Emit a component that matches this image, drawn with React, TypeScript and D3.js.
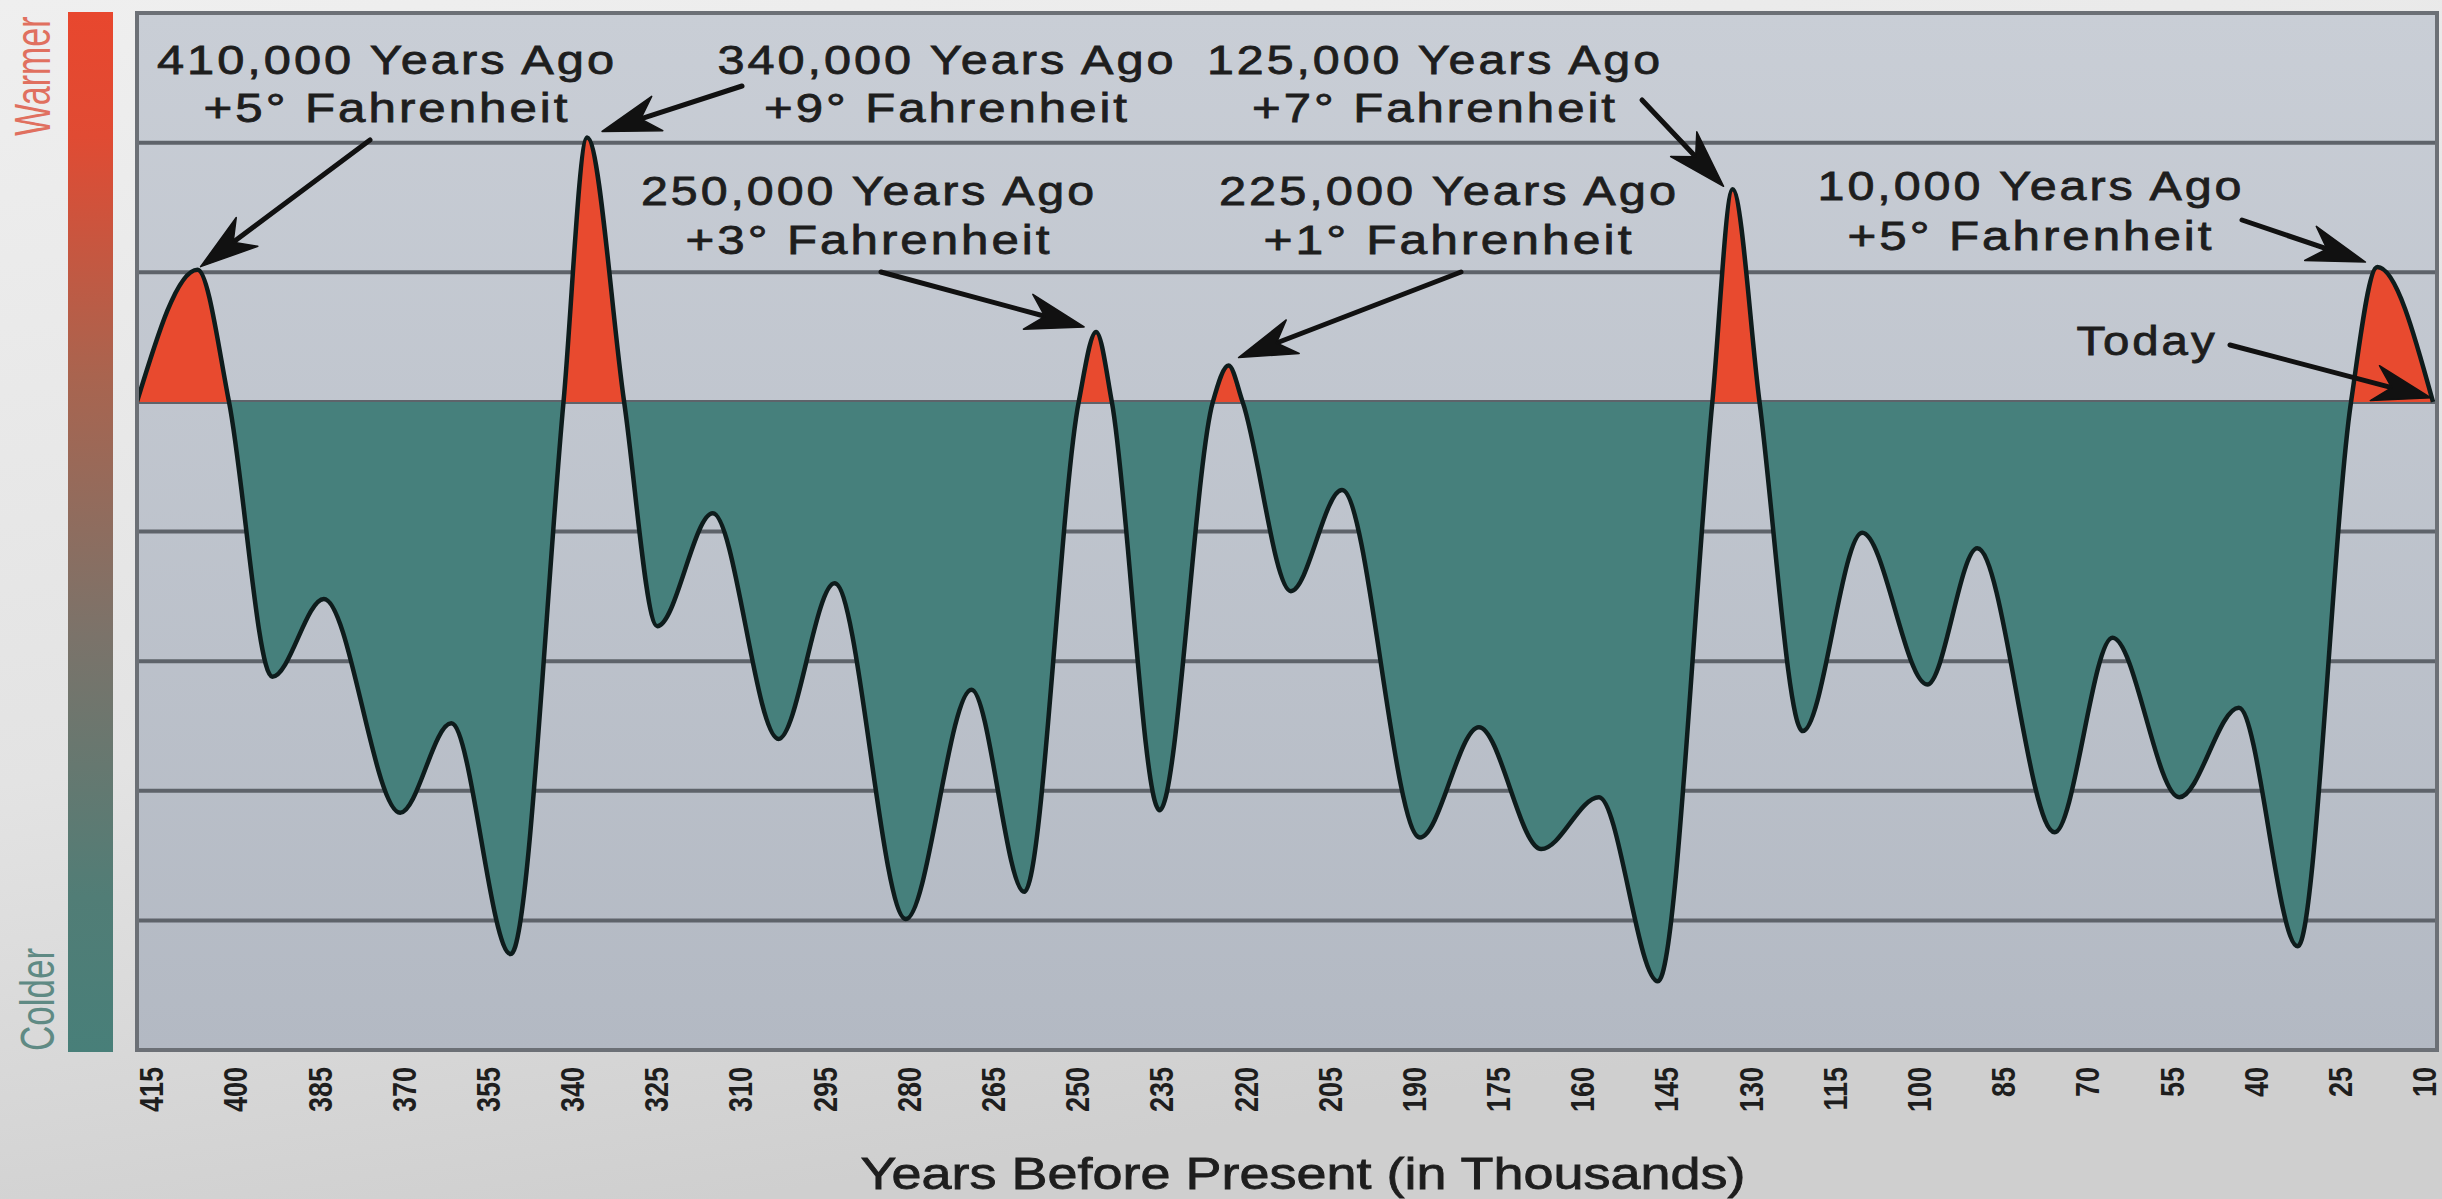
import React from 'react';
import * as d3 from 'd3';

// ---------- data ----------
const years = [417.5, 406.7, 401.1, 393.4, 384.2, 370.6, 361.5, 350.9, 341.5, 337.3, 330.7, 324.8, 314.9, 303.2, 293.2, 280.5, 268.8, 259.4, 249.7, 246.6, 243.8, 235.3, 225.8, 223.0, 220.5, 211.9, 202.8, 188.9, 178.4, 167.3, 157.0, 146.5, 136.8, 133.2, 128.4, 120.7, 110.1, 98.5, 89.6, 75.8, 65.5, 53.6, 43.0, 32.5, 23.0, 18.3, 8.4];
const temps = [0, 1.02, 0, -2.12, -1.52, -3.17, -2.48, -4.26, 0, 2.04, 0, -1.73, -0.86, -2.60, -1.40, -3.99, -2.22, -3.78, 0, 0.54, 0, -3.15, 0, 0.28, 0, -1.46, -0.68, -3.36, -2.51, -3.45, -3.05, -4.47, 0, 1.64, 0, -2.54, -1.01, -2.18, -1.13, -3.32, -1.82, -3.05, -2.36, -4.20, 0, 1.04, 0];
const xTicks = [415, 400, 385, 370, 355, 340, 325, 310, 295, 280, 265, 250, 235, 220, 205, 190, 175, 160, 145, 130, 115, 100, 85, 70, 55, 40, 25, 10];
const gridValues = [2, 1, 0, -1, -2, -3, -4];
const annoLine1 = ['410,000 Years Ago', '340,000 Years Ago', '125,000 Years Ago', '250,000 Years Ago', '225,000 Years Ago', '10,000 Years Ago', 'Today'];
const annoLine2 = ['+5° Fahrenheit', '+9° Fahrenheit', '+7° Fahrenheit', '+3° Fahrenheit', '+1° Fahrenheit', '+5° Fahrenheit', ''];
const annoYear = [406.7, 337.3, 133.2, 246.6, 223.0, 18.3, 8.4];
const annoTemp = [1.02, 2.04, 1.64, 0.54, 0.28, 1.04, 0];
const xTitle = 'Years Before Present (in Thousands)';

// ---------- layout ----------
const W = 2442, H = 1199;
const frame = { left: 137, right: 2437, top: 13, bottom: 1050 };
const FONT = '"Liberation Sans", Arial, Helvetica, sans-serif';
// label layout: [centerX, baseline1, width1, baseline2, width2]
const labelLayout = [
  [387, 74, 460, 122, 367],
  [947, 74, 459, 122, 366],
  [1435, 74, 456, 122, 366],
  [869, 205, 456, 254, 367],
  [1449, 205, 460, 254, 371],
  [2031, 200, 427, 250, 367],
  [2147, 355, 141, 0, 0],
];
// arrow tail (absolute) and tip offset from peak
const arrowLayout = [
  [370, 140, 3, -3],
  [742, 86, 15, -6],
  [1642, 100, -9, -3],
  [881, 272, -12, -5],
  [1461, 272, 10, -8],
  [2242, 220, -12, -5],
  [2230, 345, -2, -4],
];

const x = d3.scaleLinear().domain([415, 10]).range([151, 2424]);
const y = d3.scaleLinear().domain([3, -5]).range([frame.top, frame.bottom]);

function Arrow({ x1, y1, x2, y2 }: { x1: number; y1: number; x2: number; y2: number }) {
  const dx = x2 - x1, dy = y2 - y1;
  const len = Math.hypot(dx, dy);
  const ux = dx / len, uy = dy / len;
  const nx = -uy, ny = ux;
  const L = 58, Wd = 18, notch = 0.7 * L;
  const bx = x2 - ux * L, by = y2 - uy * L;
  const nxp = x2 - ux * notch, nyp = y2 - uy * notch;
  const d = `M${x2},${y2}L${bx + nx * Wd},${by + ny * Wd}L${nxp},${nyp}L${bx - nx * Wd},${by - ny * Wd}Z`;
  return (
    <g>
      <line x1={x1} y1={y1} x2={nxp} y2={nyp} stroke="#111" strokeWidth={5} strokeLinecap="round" />
      <path d={d} fill="#111" stroke="#111" strokeWidth={1.5} strokeLinejoin="round" />
    </g>
  );
}

export default function App() {
  const pts = years.map((yr, i) => [yr, temps[i]] as [number, number]);
  const area = d3.area<[number, number]>()
    .x(d => x(d[0]))
    .y0(y(0))
    .y1(d => y(d[1]))
    .curve(d3.curveMonotoneX);
  const line = d3.line<[number, number]>()
    .x(d => x(d[0]))
    .y(d => y(d[1]))
    .curve(d3.curveMonotoneX);
  const areaPath = area(pts) || '';
  const linePath = line(pts) || '';
  const y0 = y(0);

  return (
    <svg width={W} height={H} style={{ position: 'absolute', left: 0, top: 0, display: 'block' }} fontFamily={FONT}>
      <defs>
        <linearGradient id="pageBg" x1="0" y1="0" x2="0.3" y2="1">
          <stop offset="0" stopColor="#efefef" />
          <stop offset="0.6" stopColor="#e3e3e3" />
          <stop offset="1" stopColor="#cfcfcf" />
        </linearGradient>
        <linearGradient id="plotBg" x1="0" y1="0" x2="0" y2="1">
          <stop offset="0" stopColor="#c9ced6" />
          <stop offset="1" stopColor="#b3b9c3" />
        </linearGradient>
        <linearGradient id="barGrad" x1="0" y1="0" x2="0" y2="1">
          <stop offset="0" stopColor="#e8472e" />
          <stop offset="0.12" stopColor="#e04b33" />
          <stop offset="0.35" stopColor="#a9644f" />
          <stop offset="0.6" stopColor="#7b736a" />
          <stop offset="0.85" stopColor="#517d76" />
          <stop offset="1" stopColor="#487f79" />
        </linearGradient>
        <clipPath id="above">
          <rect x={frame.left} y={frame.top} width={frame.right - frame.left} height={y0 - frame.top} />
        </clipPath>
        <clipPath id="below">
          <rect x={frame.left} y={y0} width={frame.right - frame.left} height={frame.bottom - y0} />
        </clipPath>
        <clipPath id="plotClip">
          <rect x={frame.left} y={frame.top} width={frame.right - frame.left} height={frame.bottom - frame.top} />
        </clipPath>
      </defs>

      <rect x={0} y={0} width={W} height={H} fill="url(#pageBg)" />

      {/* color bar */}
      <rect x={68} y={12} width={45} height={1040} fill="url(#barGrad)" />
      <text transform="translate(50,136) rotate(-90) scale(1,1.45)" fontSize={34} fill="#e0705f">Warmer</text>
      <text transform="translate(54,1051) rotate(-90) scale(1,1.4)" fontSize={35} fill="#5f8a84">Colder</text>

      {/* plot */}
      <rect x={frame.left} y={frame.top} width={frame.right - frame.left} height={frame.bottom - frame.top} fill="url(#plotBg)" />
      {gridValues.map(v => (
        <line key={v} x1={frame.left} x2={frame.right} y1={y(v)} y2={y(v)} stroke="#5e636a" strokeWidth={4} />
      ))}
      <g clipPath="url(#plotClip)">
        <path d={areaPath} fill="#e84a2f" clipPath="url(#above)" />
        <path d={areaPath} fill="#46807c" clipPath="url(#below)" />
        <path d={linePath} fill="none" stroke="#0e1c1c" strokeWidth={4.5} strokeLinejoin="round" />
      </g>
      <rect x={frame.left} y={frame.top} width={frame.right - frame.left} height={frame.bottom - frame.top} fill="none" stroke="#6c7076" strokeWidth={4} />

      {/* x tick labels */}
      {xTicks.map(t => (
        <text key={t} transform={`translate(${x(t)},1067) rotate(-90) scale(1,1.25)`} textAnchor="end" dy="0.36em" fontSize={27} fontWeight={700} fill="#1e1e1e">{t}</text>
      ))}
      <text x={1303} y={1189} textAnchor="middle" fontSize={45} fill="#1e1e1e" stroke="#1e1e1e" strokeWidth={0.8} textLength={885} lengthAdjust="spacingAndGlyphs">{xTitle}</text>

      {/* annotations */}
      {annoLine1.map((t, i) => {
        const [cx, b1, w1, b2, w2] = labelLayout[i];
        return (
          <g key={i} fill="#1e1e1e" stroke="#1e1e1e" strokeWidth={0.8} fontSize={41} textAnchor="middle" letterSpacing={2.5}>
            <text x={cx} y={b1} textLength={w1} lengthAdjust="spacingAndGlyphs">{t}</text>
            {annoLine2[i] ? <text x={cx} y={b2} textLength={w2} lengthAdjust="spacingAndGlyphs">{annoLine2[i]}</text> : null}
          </g>
        );
      })}
      {arrowLayout.map((a, i) => (
        <Arrow key={i} x1={a[0]} y1={a[1]} x2={x(annoYear[i]) + a[2]} y2={y(annoTemp[i]) + a[3]} />
      ))}
    </svg>
  );
}
